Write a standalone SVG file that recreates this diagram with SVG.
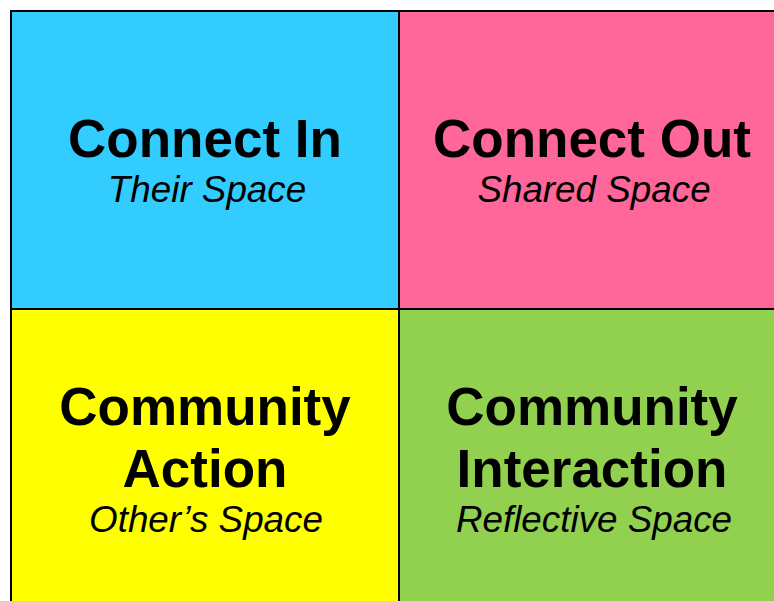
<svg xmlns="http://www.w3.org/2000/svg" width="774" height="601" viewBox="0 0 774 601">
<style>
.t{font-family:"Liberation Sans",Arial,sans-serif;font-weight:bold;font-size:53px;text-anchor:middle;fill:#000}
.s{font-family:"Liberation Sans",Arial,sans-serif;font-style:italic;font-size:36.8px;text-anchor:middle;fill:#000}
.b{stroke:#000;stroke-width:2}
</style>
<rect width="774" height="601" fill="#fff"/>
<g id="connect-in">
<rect x="11" y="11" width="388" height="298" fill="#33CCFF" class="b"/>
<text class="t" x="205" y="157">Connect In</text>
<text class="s" x="207" y="202">Their Space</text>
</g>
<g id="connect-out">
<rect x="399" y="11" width="386" height="298" fill="#FF6699" class="b"/>
<text class="t" x="592" y="157">Connect Out</text>
<text class="s" x="594" y="202">Shared Space</text>
</g>
<g id="community-action">
<rect x="11" y="309" width="388" height="300" fill="#FFFF00" class="b"/>
<text class="t" x="205" y="425">Community</text>
<text class="t" x="205" y="487">Action</text>
<text class="s" x="206" y="532">Other’s Space</text>
</g>
<g id="community-interaction">
<rect x="399" y="309" width="386" height="300" fill="#92D050" class="b"/>
<text class="t" x="592" y="425">Community</text>
<text class="t" x="592" y="487">Interaction</text>
<text class="s" x="594" y="532">Reflective Space</text>
</g>
<g id="connectors"></g>
</svg>
